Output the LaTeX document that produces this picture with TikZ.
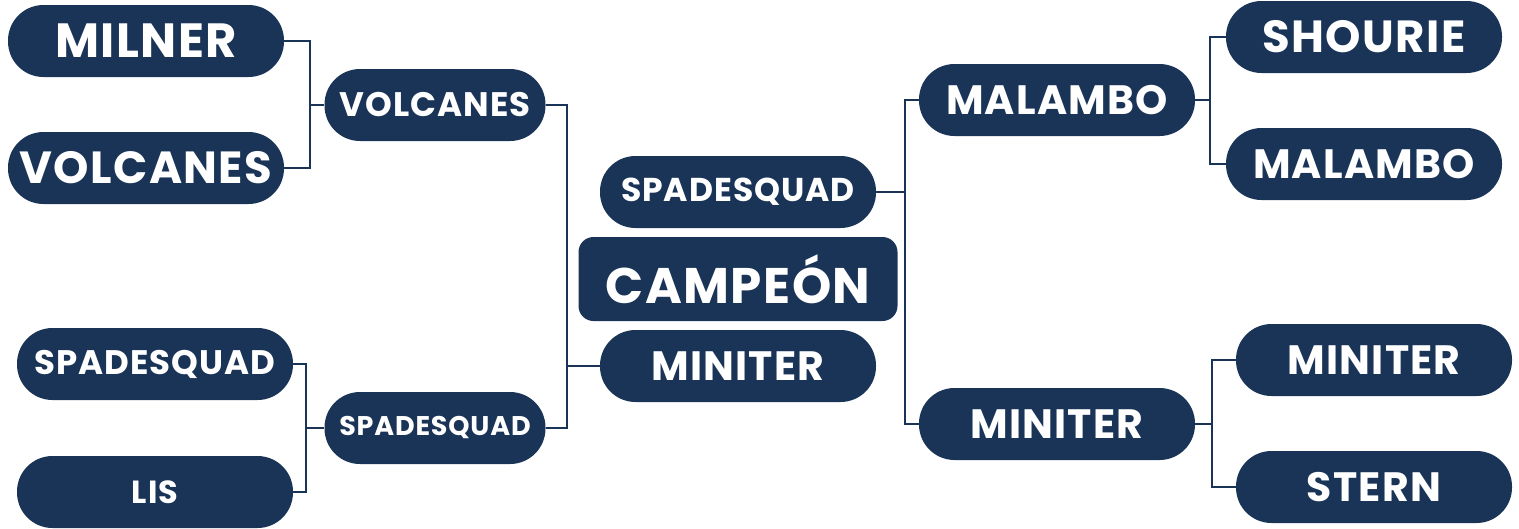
\documentclass[tikz,border=0pt]{standalone}
\usepackage{fontspec}
\setmainfont{Poppins}[LetterSpace=3]
\usepackage{xcolor}
\usepackage{tikz}
\definecolor{navy}{HTML}{1A3457}
\newcommand{\fsz}[1]{\bfseries\fontsize{#1}{#1}\selectfont}

\begin{document}
\begin{tikzpicture}[x=1pt, y=-1pt, team/.style={fill=navy, text=white, rounded corners=35.5pt, minimum width=276pt, minimum height=72pt, inner sep=0}, line/.style={draw=navy, line width=2pt}]

  \useasboundingbox (0,0) rectangle (1519,528);

  % left half
  \node[team, font=\fsz{48}]  (teamMilner)     at (146,41)   {MILNER};
  \node[team, font=\fsz{45}]  (teamVolcanes)   at (146,168)  {VOLCANES};
  \node[team, font=\fsz{34}]  (teamSpadeA)     at (155,364)  {SPADESQUAD};
  \node[team, font=\fsz{32}]  (teamLis)        at (155,492)  {LIS};
  \node[team, font=\fsz{34}, minimum width=221pt] (quarterVolcanes) at (435,105) {VOLCANES};
  \node[team, font=\fsz{27}, minimum width=221pt] (quarterSpade)    at (435,428) {SPADESQUAD};

  % center
  \node[team, font=\fsz{33}]  (semiSpade)      at (738,192)  {SPADESQUAD};
  \node[fill=navy, text=white, rounded corners=15pt, minimum width=319pt, minimum height=84pt, inner sep=0, font=\fsz{50}] (champion) at (738,279) {CAMPEÓN};
  \node[team, font=\fsz{41}]  (semiMiniter)    at (738,366)  {MINITER};

  % right half
  \node[team, font=\fsz{41}]  (quarterMalambo) at (1057,100) {MALAMBO};
  \node[team, font=\fsz{41}]  (quarterMiniter) at (1057,424) {MINITER};
  \node[team, font=\fsz{45}]  (teamShourie)    at (1364,37)  {SHOURIE};
  \node[team, font=\fsz{41}]  (teamMalambo)    at (1364,164) {MALAMBO};
  \node[team, font=\fsz{41}]  (teamMiniter)    at (1374,360) {MINITER};
  \node[team, font=\fsz{41}]  (teamStern)      at (1374,487) {STERN};

  \coordinate (joinL1) at (310,105);
  \coordinate (joinL2) at (306,428);
  \coordinate (joinC1) at (567,366);
  \coordinate (joinC2) at (905,192);
  \coordinate (joinR1) at (1210,100);
  \coordinate (joinR2) at (1212,424);

  \draw [line] (teamMilner.east) -| (joinL1) |- (teamVolcanes.east);
  \draw [line] (joinL1) -- (quarterVolcanes.west);
  \draw [line] (teamSpadeA.east) -| (joinL2) |- (teamLis.east);
  \draw [line] (joinL2) -- (quarterSpade.west);

  \draw [line] (quarterVolcanes.east) -| (joinC1) |- (quarterSpade.east);
  \draw [line] (joinC1) -- (semiMiniter.west);
  \draw [line] (quarterMalambo.west) -| (joinC2) |- (quarterMiniter.west);
  \draw [line] (joinC2) -- (semiSpade.east);

  \draw [line] (teamShourie.west) -| (joinR1) |- (teamMalambo.west);
  \draw [line] (joinR1) -- (quarterMalambo.east);
  \draw [line] (teamMiniter.west) -| (joinR2) |- (teamStern.west);
  \draw [line] (joinR2) -- (quarterMiniter.east);
\end{tikzpicture}
\end{document}
